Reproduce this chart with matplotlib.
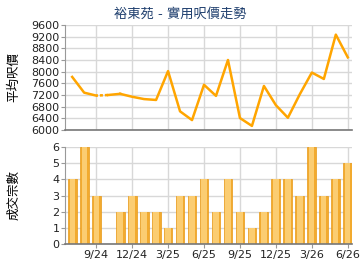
import numpy as np
import matplotlib.pyplot as plt

plt.rcParams['font.family'] = ['DejaVu Sans', 'Noto Sans CJK TC']

# Monthly data, 7/24 to 6/26
months = ['7/24', '8/24', '9/24', '10/24', '11/24', '12/24', '1/25', '2/25', '3/25',
          '4/25', '5/25', '6/25', '7/25', '8/25', '9/25', '10/25', '11/25', '12/25',
          '1/26', '2/26', '3/26', '4/26', '5/26', '6/26']
price = [7820, 7280, 7180, 7200, 7240, 7140, 7060, 7030, 8020, 6640, 6340, 7550,
         7170, 8400, 6410, 6140, 7510, 6850, 6420, 7230, 7970, 7750, 9270, 8490]
deals = [4, 6, 3, 0, 2, 3, 2, 2, 1, 3, 3, 4, 2, 4, 2, 1, 2, 4, 4, 3, 6, 3, 4, 5]
tick_labels = ['9/24', '12/24', '3/25', '6/25', '9/25', '12/25', '3/26', '6/26']

x = np.arange(len(months))
tick_pos = [months.index(t) for t in tick_labels]
price = np.array(price, dtype=float)

fig = plt.figure(figsize=(3.6, 2.7), dpi=100)
ax1 = fig.add_axes([65 / 360, 1 - 130 / 270, 287 / 360, 105 / 270])
ax2 = fig.add_axes([65 / 360, 1 - 244 / 270, 287 / 360, 97 / 270])

grid_c = '#d8d8d8'
line_c = '#ffa500'

for ax in (ax1, ax2):
    ax.set_xlim(-0.6, 23.35)
    ax.set_xticks(tick_pos)
    ax.grid(True, color=grid_c, linewidth=1)
    ax.set_axisbelow(True)
    for s in ('top', 'right'):
        ax.spines[s].set_visible(False)
    ax.spines['left'].set_color('#999999')
    ax.spines['bottom'].set_color('#777777')
    ax.spines['bottom'].set_linewidth(1.2)
    ax.tick_params(labelsize=8, length=3, color='#999999', pad=1, labelcolor='#222222')

# price line; month with no deals is drawn dashed
no_deal = [i for i, d in enumerate(deals) if d == 0]
solid = price.copy()
for i in no_deal:
    solid[i] = np.nan
ax1.plot(x, solid, color=line_c, linewidth=1.8)
for i in no_deal:
    ax1.plot(x[i - 1:i + 1], price[i - 1:i + 1], color=line_c, linewidth=1.8,
             linestyle=(0.5, (1.2, 0.8)))
    ax1.plot(x[i:i + 2], price[i:i + 2], color=line_c, linewidth=1.8)
ax1.set_ylim(6000, 9600)
ax1.set_yticks(np.arange(6000, 9601, 400))
ax1.tick_params(axis='x', labelbottom=False, length=0)
ax1.set_ylabel('平均呎價', fontsize=9)
ax1.yaxis.set_label_coords(-0.155, 0.5)

fig.text(0.5, 1 - 14 / 270, '裕東苑 - 實用呎價走勢', fontsize=9.5, color='#1f3f6e',
         ha='center', va='center')

# deals bars with a lighter core
ax2.bar(x, deals, width=0.74, color='#f2aa2e', edgecolor='#e89a18', linewidth=0.5)
ax2.bar(x, deals, width=0.44, color='#fbcd72', linewidth=0)
ax2.set_ylim(0, 6)
ax2.set_yticks(range(0, 7))
ax2.set_xticklabels(tick_labels)
ax2.set_ylabel('成交宗數', fontsize=9)
ax2.yaxis.set_label_coords(-0.155, 0.5)

fig.savefig('out.png', dpi=100)
